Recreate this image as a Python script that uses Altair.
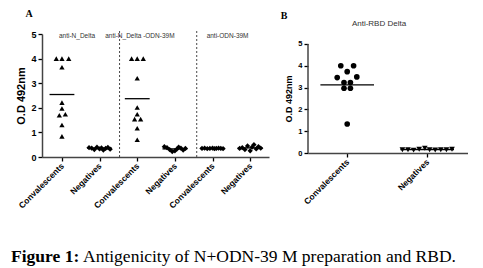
import json
import altair as alt
import pandas as pd

# ---------------- Panel A data ----------------
A_categories = ["Convalescents", "Negatives", "Convalescents", "Negatives", "Convalescents", "Negatives"]
A_group_titles = ["anti-N_Delta", "anti-N_Delta -ODN-39M", "anti-ODN-39M"]
A_title_pos = [0.4, 2.07, 4.4]
A_divider_pos = [1.53, 3.58]

A_nd_conv = [4.0, 4.0, 4.0, 3.65, 2.21, 1.97, 1.70, 1.74, 1.30, 0.84]
A_nd_conv_dx = [-0.15, 0.0, 0.18, 0.0, 0.0, 0.0, -0.07, 0.09, 0.0, 0.0]
A_nd_neg = [0.38, 0.36, 0.30, 0.40, 0.33, 0.37, 0.28, 0.35, 0.39, 0.32]
A_nd_neg_dx = [-0.28, -0.21, -0.14, -0.07, 0.0, 0.05, 0.1, 0.16, 0.22, 0.28]
A_ndo_conv = [4.0, 4.0, 4.0, 3.2, 2.01, 1.74, 1.54, 1.54, 1.17, 0.70]
A_ndo_conv_dx = [-0.15, 0.0, 0.16, 0.0, 0.0, 0.0, -0.07, 0.09, 0.0, 0.0]
A_ndo_neg = [0.42, 0.38, 0.30, 0.22, 0.25, 0.32, 0.40, 0.36, 0.28, 0.35]
A_ndo_neg_dx = [-0.28, -0.21, -0.14, -0.07, 0.0, 0.05, 0.1, 0.16, 0.22, 0.28]
A_odn_conv = [0.35, 0.36, 0.34, 0.35, 0.36, 0.34, 0.35, 0.36, 0.35, 0.34]
A_odn_conv_dx = [-0.28, -0.21, -0.14, -0.07, 0.0, 0.05, 0.1, 0.16, 0.22, 0.28]
A_odn_neg = [0.35, 0.38, 0.30, 0.45, 0.25, 0.40, 0.50, 0.33, 0.42, 0.36]
A_odn_neg_dx = [-0.28, -0.21, -0.14, -0.07, 0.0, 0.05, 0.1, 0.16, 0.22, 0.28]
A_means = [2.54, 0.36, 2.37, 0.33, 0.35, 0.37]

# ---------------- Panel B data ----------------
B_categories = ["Convalescents", "Negatives"]
B_title = "Anti-RBD Delta"
B_conv = [4.0, 4.0, 3.73, 3.46, 3.49, 3.23, 3.23, 2.97, 2.97, 1.33]
B_conv_dx = [-0.08, 0.08, 0.0, -0.125, 0.12, -0.04, 0.04, -0.04, 0.04, 0.0]
B_neg = [0.15, 0.15, 0.13, 0.17, 0.22, 0.15, 0.14, 0.15, 0.15, 0.17]
B_neg_dx = [-0.31, -0.24, -0.17, -0.10, -0.03, 0.03, 0.10, 0.17, 0.24, 0.31]
B_means = [3.12, 0.16]

Y_TITLE = "O.D 492nm"
CAPTION_BOLD = "Figure 1:"
CAPTION_REST = "Antigenicity of N+ODN-39 M preparation and RBD."

SANS = "Liberation Sans"
SERIF = "Liberation Serif"

# ---------------- build tables ----------------
A_groups = [
    (A_nd_conv, A_nd_conv_dx, "triangle-up"),
    (A_nd_neg, A_nd_neg_dx, "diamond"),
    (A_ndo_conv, A_ndo_conv_dx, "triangle-up"),
    (A_ndo_neg, A_ndo_neg_dx, "diamond"),
    (A_odn_conv, A_odn_conv_dx, "diamond"),
    (A_odn_neg, A_odn_neg_dx, "diamond"),
]
rows = []
for i, (vals, dxs, shp) in enumerate(A_groups):
    for v, d in zip(vals, dxs):
        rows.append({"idx": i, "dx": d, "val": v, "shape": shp})
A_points = pd.DataFrame(rows)
A_mean_df = pd.DataFrame({"idx": list(range(6)), "val": A_means})
A_titles_df = pd.DataFrame({"pos": A_title_pos, "label": A_group_titles})
A_div_df = pd.DataFrame({"pos": A_divider_pos})

rows = []
for v, d in zip(B_conv, B_conv_dx):
    rows.append({"idx": 0, "dx": d, "val": v, "shape": "circle"})
for v, d in zip(B_neg, B_neg_dx):
    rows.append({"idx": 1, "dx": d, "val": v, "shape": "triangle-down"})
B_points = pd.DataFrame(rows)
B_mean_df = pd.DataFrame({"idx": [0, 1], "val": B_means})


def label_expr(cats):
    return json.dumps(cats) + "[round(datum.value)]"


def panel(points, means, cats, xdomain, ydomain, ysize, ytitle_size, xlabel_size,
          msize, half, show_ydomain=True, title_y=None):
    xscale = alt.Scale(domain=xdomain, nice=False, zero=False)
    yscale = alt.Scale(domain=ydomain, nice=False, zero=True)
    xaxis = alt.Axis(
        values=list(range(len(cats))), labelExpr=label_expr(cats), title=None,
        labelAngle=-45, labelAlign="right", labelBaseline="middle",
        labelOverlap=False, labelFlush=False,
        labelFont=SANS, labelFontSize=xlabel_size, labelFontWeight="bold",
        labelColor="black", labelPadding=3, tickSize=4, tickWidth=1.3,
        tickColor="black", domainColor="#444", domainWidth=1.5, grid=False,
    )
    ykw = dict(
        values=[0, 1, 2, 3, 4, 5], title=Y_TITLE, titleFont=SANS,
        labelOverlap=False, labelFlush=False,
        titleFontSize=ytitle_size, titleFontWeight="bold", titleColor="black",
        labelFont=SANS, labelFontSize=ysize, labelFontWeight="bold",
        labelColor="black", tickSize=4, tickWidth=1.3, tickColor="black",
        domain=show_ydomain, domainColor="#444", domainWidth=1.5, grid=False,
        labelPadding=2, titlePadding=4,
    )
    if title_y is not None:
        ykw["titleY"] = title_y
    yaxis = alt.Axis(**ykw)
    pts = alt.Chart(points).transform_calculate(
        pos="datum.idx + datum.dx"
    ).mark_point(filled=True, color="black", opacity=1, size=msize).encode(
        x=alt.X("pos:Q", scale=xscale, axis=xaxis),
        y=alt.Y("val:Q", scale=yscale, axis=yaxis),
        shape=alt.Shape("shape:N", scale=None),
    )
    mean = alt.Chart(means).transform_calculate(
        x1="datum.idx - %f" % half, x2="datum.idx + %f" % half
    ).mark_rule(color="black", strokeWidth=1.3).encode(
        x=alt.X("x1:Q", scale=xscale, axis=xaxis), x2="x2:Q",
        y=alt.Y("val:Q", scale=yscale, axis=yaxis),
    )
    return pts, mean, xscale, yscale, yaxis


# ---------------- Panel A ----------------
A_w, A_h = 227, 123
ptsA, meanA, xsA, ysA, yaA = panel(A_points, A_mean_df, A_categories, [-0.53, 5.5], [0, 5],
                                   9, 11, 8.5, 28, 0.33)
divA = alt.Chart(A_div_df).mark_rule(color="#333", strokeDash=[2, 2], strokeWidth=0.9).encode(
    x=alt.X("pos:Q", scale=xsA), y=alt.value(-3), y2=alt.value(A_h)
)
titlesA = alt.Chart(A_titles_df).mark_text(
    font=SANS, fontSize=6.5, color="#333", baseline="middle", align="center"
).encode(x=alt.X("pos:Q", scale=xsA), y=alt.value(2), text="label:N")
letterA = alt.Chart(pd.DataFrame({"t": ["A"]})).mark_text(
    font=SERIF, fontSize=10, fontWeight="bold", color="black", baseline="middle", align="center"
).encode(x=alt.value(-13), y=alt.value(-20), text="t:N")
panelA = alt.layer(ptsA, meanA, divA, titlesA, letterA).properties(width=A_w, height=A_h)

# ---------------- Panel B ----------------
B_w, B_h = 160, 119
B_ytop = 5.457
ptsB, meanB, xsB, ysB, yaB = panel(B_points, B_mean_df, B_categories, [-0.49, 1.51], [0, B_ytop],
                                   7.5, 9, 8.5, 32, 0.335, show_ydomain=False,
                                   title_y=B_h - 2.5 * B_h / B_ytop)
yaxisB_line = alt.Chart(pd.DataFrame({"lo": [0], "hi": [5]})).mark_rule(
    color="#444", strokeWidth=1.5
).encode(
    x=alt.value(0), y=alt.Y("lo:Q", scale=ysB, axis=yaB), y2="hi:Q"
)
titleB = alt.Chart(pd.DataFrame({"t": [B_title]})).mark_text(
    font=SANS, fontSize=8, color="#333", baseline="middle", align="center"
).encode(x=alt.value(71), y=alt.value(-10), text="t:N")
letterB = alt.Chart(pd.DataFrame({"t": ["B"]})).mark_text(
    font=SERIF, fontSize=10, fontWeight="bold", color="black", baseline="middle", align="center"
).encode(x=alt.value(-24), y=alt.value(-18), text="t:N")
panelB = alt.layer(ptsB, meanB, yaxisB_line, titleB, letterB).properties(width=B_w, height=B_h)

# ---------------- Caption ----------------
cap_df = pd.DataFrame({"a": [CAPTION_BOLD], "b": [CAPTION_REST]})
cap1 = alt.Chart(cap_df).mark_text(
    font=SERIF, fontSize=17.5, fontWeight="bold", color="black", align="left", baseline="alphabetic"
).encode(x=alt.value(-31), y=alt.value(14), text="a:N")
cap2 = alt.Chart(cap_df).mark_text(
    font=SERIF, fontSize=17.5, color="black", align="left", baseline="alphabetic"
).encode(x=alt.value(41), y=alt.value(14), text="b:N")
caption = alt.layer(cap1, cap2).properties(width=400, height=20)

top = alt.hconcat(panelA, panelB, spacing=11)
chart = alt.vconcat(top, caption, spacing=38).properties(
    padding={"left": 11, "top": 9, "right": 0, "bottom": 0}, background="white"
).configure_view(stroke=None)

chart.save("out.html", embed_options={"renderer": "svg", "actions": False})
